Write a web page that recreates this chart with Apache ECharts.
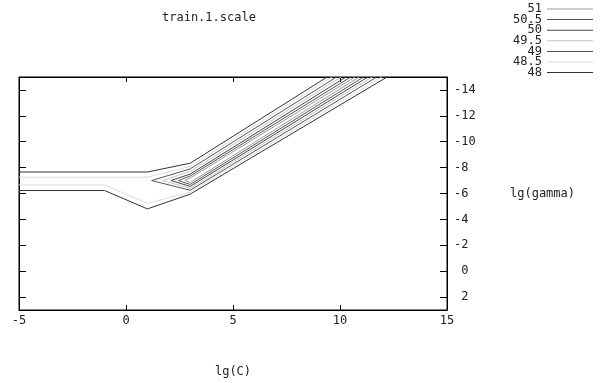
<!DOCTYPE html>
<html>
<head>
<meta charset="utf-8">
<script src="https://cdn.jsdelivr.net/npm/echarts@6/dist/echarts.min.js"></script>
<style>
  html, body { margin: 0; padding: 0; background: #fff; }
  #chart { width: 600px; height: 383px; }
</style>
</head>
<body>
<div id="chart"></div>
<script>
// contour levels, top to bottom as in the key
const levels = ['51', '50.5', '50', '49.5', '49', '48.5', '48'];
const yTicks = [-14, -12, -10, -8, -6, -4, -2, 0, 2];

// contour paths, [lg(C), lg(gamma)] pairs
const c48Upper = [[-5, -7.66], [1, -7.66], [3, -8.34], [9.4, -15]];
const c48Lower = [[-5, -6.23], [-1, -6.23], [1, -4.81], [3, -5.95], [12.2, -15]];
const c485Upper = [[-5, -7.26], [1, -7.26], [3, -8.1], [9.62, -15]];
const c485Lower = [[-5, -6.66], [-1, -6.66], [1, -5.24], [3, -6.1], [11.95, -15]];
const c49 = [[9.84, -15], [3, -7.9], [1.2, -7], [3, -6.25], [11.72, -15]];
const c495 = [[10.06, -15], [3, -7.7], [1.7, -7], [3, -6.4], [11.5, -15]];
const c50 = [[10.28, -15], [3, -7.5], [2.1, -7], [3, -6.55], [11.3, -15]];
const c505 = [[10.5, -15], [3, -7.35], [2.45, -7], [3, -6.7], [11.1, -15]];
const c51 = [[10.7, -15], [3, -7.2], [2.75, -7], [3, -6.85], [10.9, -15]];

const colors = {
    '51': '#9a9a9a',
    '50.5': '#555555',
    '50': '#444444',
    '49.5': '#c4c4c4',
    '49': '#555555',
    '48.5': '#dcdcdc',
    '48': '#333333'
};

const mono = 'DejaVu Sans Mono';
const txt = { fontFamily: mono, fontSize: 12, color: '#222' };

function contour(name, data) {
    return {
        name: name,
        type: 'line',
        data: data,
        symbol: 'none',
        color: colors[name],
        lineStyle: { width: 1, color: colors[name] },
        emphasis: { disabled: true }
    };
}

const frameAxis = {
    axisLine: { show: true, onZero: false, lineStyle: { color: '#000' } },
    splitLine: { show: false }
};

const chart = echarts.init(document.getElementById('chart'));
chart.setOption({
    animation: false,
    title: {
        text: 'train.1.scale',
        left: 157,
        top: 7,
        textStyle: { ...txt, fontWeight: 'normal' }
    },
    legend: {
        data: levels,
        orient: 'vertical',
        align: 'right',
        icon: 'rect',
        right: 2,
        top: -2,
        itemWidth: 46,
        itemHeight: 1,
        itemGap: -1.4,
        selectedMode: false,
        textStyle: { ...txt, lineHeight: 10 }
    },
    grid: {
        left: 19, right: 153, top: 77, bottom: 68,
        show: true, borderColor: '#000', borderWidth: 1
    },
    xAxis: [{
        ...frameAxis,
        type: 'value', min: -5, max: 15, interval: 5,
        position: 'bottom',
        name: 'lg(C)', nameLocation: 'middle', nameGap: 56,
        nameTextStyle: txt,
        axisTick: { show: true, inside: true, length: 5, lineStyle: { color: '#000' } },
        axisLabel: { ...txt, margin: 5 }
    }, {
        ...frameAxis,
        type: 'value', min: -5, max: 15, interval: 5,
        position: 'top',
        axisTick: { show: true, inside: true, length: 5, lineStyle: { color: '#000' } },
        axisLabel: { show: false }
    }],
    yAxis: [{
        ...frameAxis,
        type: 'value', min: -15, max: 3, inverse: true,
        position: 'right',
        name: 'lg(gamma)', nameLocation: 'middle', nameGap: 63, nameRotate: 0,
        nameTextStyle: { ...txt, align: 'left' },
        axisTick: { show: true, inside: true, length: 7, customValues: yTicks, lineStyle: { color: '#000' } },
        axisLabel: {
            ...txt, margin: 7, align: 'left', customValues: yTicks,
            formatter: v => (v >= 0 ? ' ' + v : String(v))
        }
    }, {
        ...frameAxis,
        type: 'value', min: -15, max: 3, inverse: true,
        position: 'left',
        axisTick: { show: true, inside: true, length: 7, customValues: yTicks, lineStyle: { color: '#000' } },
        axisLabel: { show: false, customValues: yTicks }
    }],
    series: [
        contour('51', c51),
        contour('50.5', c505),
        contour('50', c50),
        contour('49.5', c495),
        contour('49', c49),
        contour('48.5', c485Upper),
        contour('48.5', c485Lower),
        contour('48', c48Upper),
        contour('48', c48Lower)
    ]
});
</script>
</body>
</html>
